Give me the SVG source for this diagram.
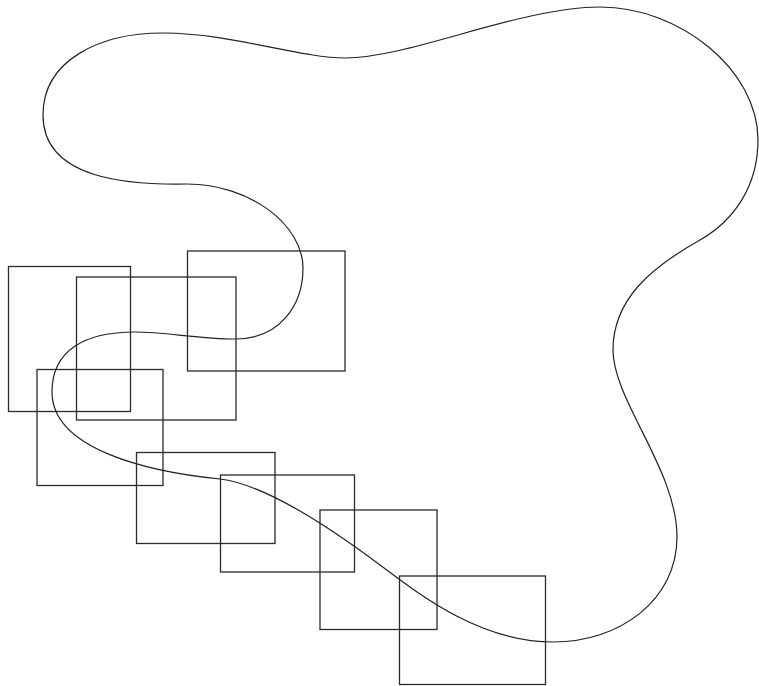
<svg xmlns="http://www.w3.org/2000/svg" width="759" height="686" viewBox="0 0 759 686">
<style>
.box{fill:none;stroke:#2a2a2a;stroke-width:1.3}
.curve{fill:none;stroke:#222;stroke-width:1.2}
</style>
<rect width="759" height="686" fill="#fff"/>
<g id="boxA"><rect class="box" x="8.5" y="266.5" width="122" height="145"/></g>
<g id="boxB"><rect class="box" x="76.5" y="277" width="159.5" height="143"/></g>
<g id="boxC"><rect class="box" x="187.5" y="251" width="157.5" height="120"/></g>
<g id="boxD"><rect class="box" x="37" y="369.5" width="126" height="116"/></g>
<g id="boxE"><rect class="box" x="136.5" y="452.5" width="138.5" height="91"/></g>
<g id="boxF"><rect class="box" x="220.5" y="475" width="134" height="97"/></g>
<g id="boxG"><rect class="box" x="320" y="510" width="117" height="119.5"/></g>
<g id="boxH"><rect class="box" x="399.5" y="576" width="146" height="108.5"/></g>
<g id="connectors">
<path class="curve" d="M163,33 C230,33 300,58 345,58 C410,58 520,7 600,7 C680,7 758,70 758,140 C758,185 735,220 700,240 C650,268 613,300 613,350 C613,400 677,470 677,537 C677,600 620,642 553,642 C480,642 420,595 380,565 C340,535 270,485 220,479 C150,472 52,450 52,392 C52,350 85,332 135,332 C165,332 200,339 235,339 C280,339 303,305 303,268 C303,225 250,184 187,184 C130,185 43,180 43,115 C43,60 100,33 163,33 Z"/>
</g>
</svg>
